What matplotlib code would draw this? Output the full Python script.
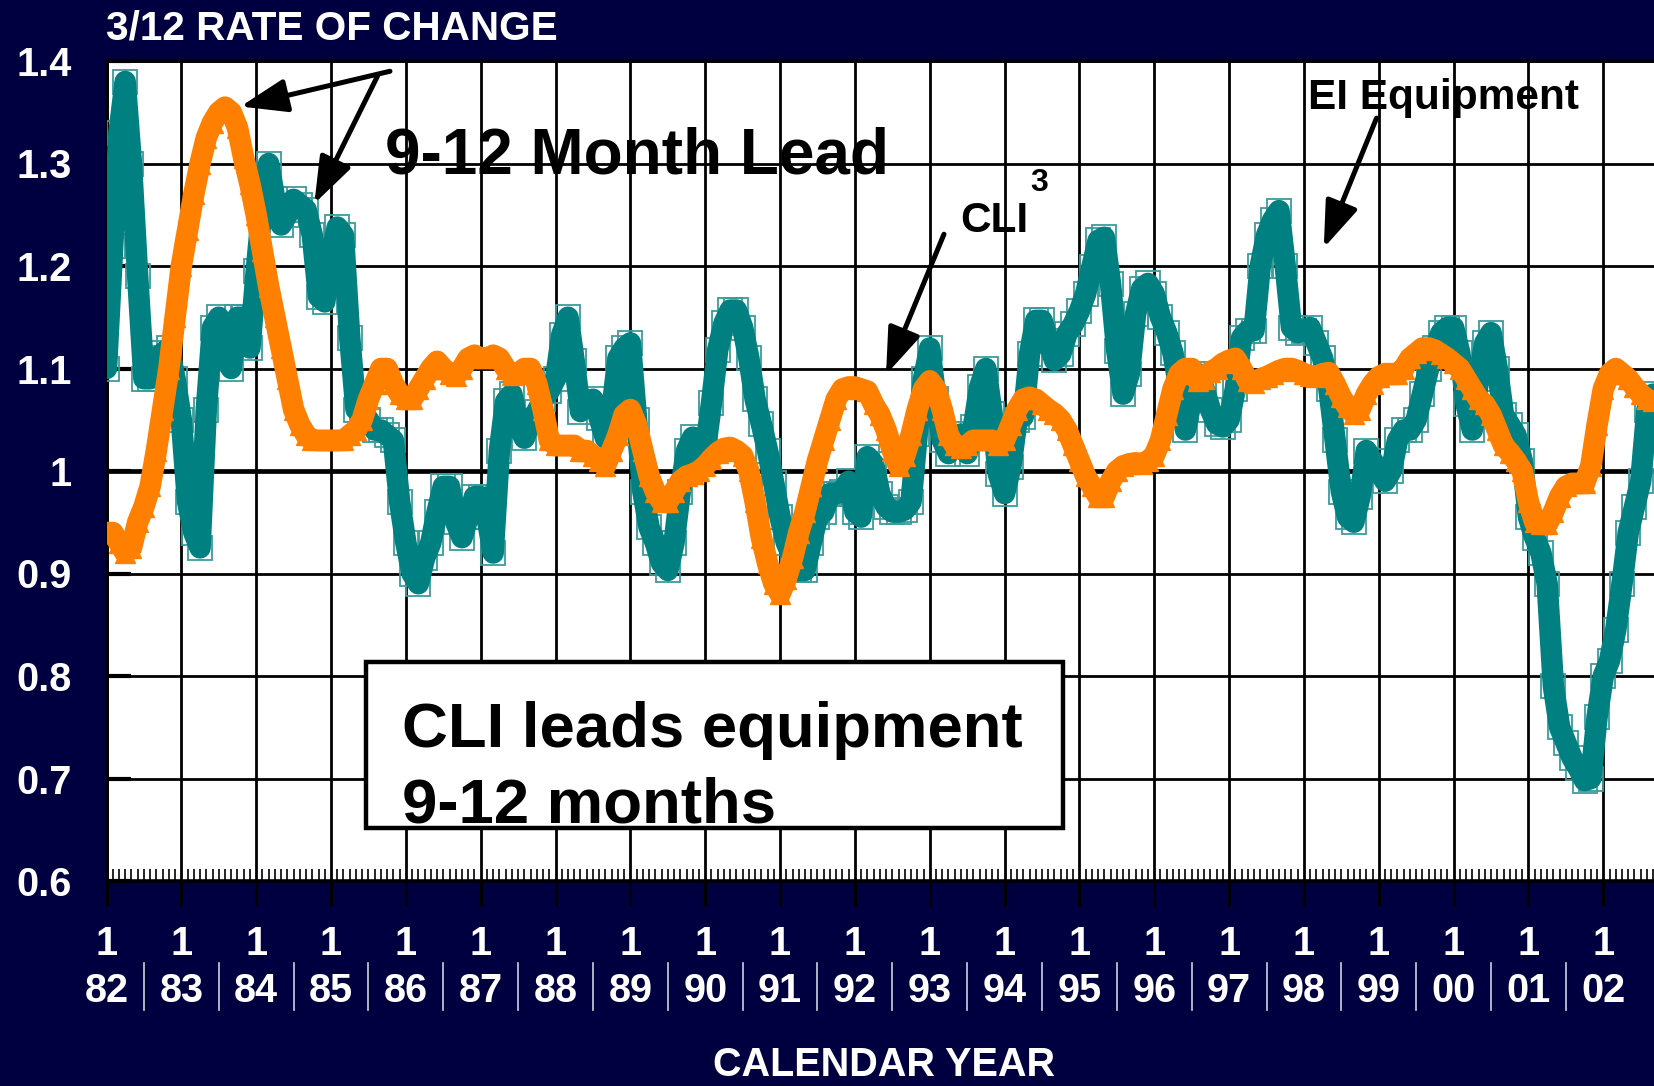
import numpy as np
import matplotlib
matplotlib.use("Agg")
import matplotlib.pyplot as plt
from matplotlib.patches import Rectangle

plt.rcParams['font.family'] = ['Liberation Sans', 'DejaVu Sans']
plt.rcParams['font.weight'] = 'bold'

# ---------------- data (monthly, starting Jan 1982) ----------------
start_year = 1982
equipment = [
    1.10, 1.22, 1.33, 1.38, 1.30, 1.19, 1.09, 1.09, 1.11, 1.115, 1.12, 1.09,      # 1982
    1.05, 0.97, 0.94, 0.925, 1.06, 1.14, 1.15, 1.11, 1.10, 1.15, 1.15, 1.12,      # 1983
    1.195, 1.26, 1.30, 1.265, 1.24, 1.25, 1.265, 1.26, 1.255, 1.23, 1.17, 1.165,  # 1984
    1.21, 1.238, 1.23, 1.13, 1.06, 1.055, 1.05, 1.04, 1.04, 1.035, 1.03, 0.97,    # 1985
    0.93, 0.90, 0.89, 0.915, 0.93, 0.96, 0.985, 0.985, 0.95, 0.935, 0.955, 0.975, # 1986
    0.975, 0.955, 0.92, 1.02, 1.068, 1.075, 1.045, 1.032, 1.049, 1.058, 1.07, 1.078,  # 1987
    1.09, 1.133, 1.15, 1.107, 1.058, 1.065, 1.07, 1.052, 1.032, 1.058, 1.11, 1.12,    # 1988
    1.125, 1.05, 0.98, 0.945, 0.93, 0.91, 0.903, 0.93, 0.98, 1.02, 1.033, 1.014,      # 1989
    1.02, 1.066, 1.118, 1.144, 1.157, 1.157, 1.14, 1.11, 1.07, 1.046, 1.02, 0.988,    # 1990
    0.955, 0.93, 0.916, 0.903, 0.903, 0.93, 0.955, 0.96, 0.978, 0.978, 0.98, 0.99,    # 1991
    0.96, 0.955, 1.014, 1.007, 0.978, 0.965, 0.96, 0.96, 0.962, 0.97, 1.036, 1.09,    # 1992
    1.12, 1.07, 1.03, 1.017, 1.03, 1.036, 1.017, 1.043, 1.082, 1.10, 1.056, 0.997,    # 1993
    0.978, 1.004, 1.05, 1.053, 1.114, 1.147, 1.147, 1.127, 1.108, 1.114, 1.134, 1.143,  # 1994
    1.156, 1.173, 1.199, 1.225, 1.228, 1.182, 1.117, 1.075, 1.095, 1.153, 1.178, 1.183,  # 1995
    1.173, 1.15, 1.135, 1.115, 1.08, 1.04, 1.07, 1.095, 1.08, 1.06, 1.046, 1.043,     # 1996
    1.05, 1.08, 1.13, 1.137, 1.137, 1.20, 1.23, 1.245, 1.254, 1.20, 1.14, 1.135,      # 1997
    1.137, 1.14, 1.125, 1.11, 1.08, 1.03, 0.98, 0.955, 0.95, 0.975, 1.02, 1.01,       # 1998
    1.00, 0.99, 1.00, 1.03, 1.04, 1.04, 1.05, 1.075, 1.10, 1.12, 1.135, 1.14,         # 1999
    1.14, 1.115, 1.065, 1.04, 1.09, 1.125, 1.135, 1.10, 1.055, 1.045, 1.035, 1.01,    # 2000
    0.955, 0.935, 0.92, 0.89, 0.79, 0.75, 0.735, 0.72, 0.71, 0.698, 0.70, 0.76,       # 2001
    0.80, 0.815, 0.845, 0.89, 0.94, 0.965, 0.99, 1.06, 1.075,                        # 2002
]
cli = [
    0.94, 0.94, 0.93, 0.92, 0.925, 0.95, 0.965, 0.985, 1.02, 1.06, 1.10, 1.15,       # 1982
    1.20, 1.235, 1.27, 1.30, 1.325, 1.34, 1.35, 1.355, 1.35, 1.335, 1.305, 1.28,     # 1983
    1.25, 1.215, 1.18, 1.15, 1.12, 1.09, 1.06, 1.045, 1.035, 1.03, 1.03, 1.03,       # 1984
    1.03, 1.03, 1.03, 1.035, 1.04, 1.05, 1.07, 1.085, 1.10, 1.10, 1.085, 1.075,      # 1985
    1.07, 1.07, 1.08, 1.09, 1.10, 1.107, 1.10, 1.095, 1.093, 1.10, 1.11, 1.113,      # 1986
    1.11, 1.11, 1.113, 1.11, 1.10, 1.094, 1.095, 1.10, 1.10, 1.085, 1.06, 1.03,      # 1987
    1.025, 1.025, 1.025, 1.025, 1.02, 1.02, 1.015, 1.01, 1.005, 1.02, 1.035, 1.055,  # 1988
    1.06, 1.045, 1.02, 0.995, 0.98, 0.97, 0.97, 0.98, 0.99, 0.995, 0.997, 1.0,       # 1989
    1.005, 1.012, 1.018, 1.022, 1.023, 1.02, 1.015, 1.0, 0.97, 0.935, 0.91, 0.89,    # 1990
    0.88, 0.895, 0.915, 0.94, 0.96, 0.985, 1.01, 1.03, 1.05, 1.07, 1.08, 1.082,      # 1991
    1.082, 1.08, 1.078, 1.065, 1.055, 1.04, 1.02, 1.005, 1.015, 1.035, 1.06, 1.08,   # 1992
    1.088, 1.08, 1.06, 1.035, 1.025, 1.022, 1.025, 1.03, 1.03, 1.03, 1.03, 1.025,    # 1993
    1.03, 1.045, 1.06, 1.07, 1.072, 1.07, 1.065, 1.06, 1.056, 1.05, 1.04, 1.025,     # 1994
    1.01, 0.995, 0.985, 0.975, 0.975, 0.99, 1.0, 1.005, 1.007, 1.008, 1.007, 1.01,   # 1995
    1.015, 1.03, 1.055, 1.08, 1.095, 1.10, 1.10, 1.088, 1.09, 1.097, 1.10, 1.105,    # 1996
    1.108, 1.11, 1.10, 1.088, 1.086, 1.09, 1.092, 1.095, 1.098, 1.10, 1.10, 1.098,   # 1997
    1.095, 1.093, 1.092, 1.095, 1.096, 1.085, 1.072, 1.062, 1.056, 1.06, 1.075, 1.085,  # 1998
    1.092, 1.095, 1.095, 1.095, 1.10, 1.11, 1.115, 1.12, 1.12, 1.118, 1.114, 1.11,   # 1999
    1.105, 1.10, 1.09, 1.08, 1.07, 1.065, 1.055, 1.04, 1.025, 1.018, 1.01, 1.0,      # 2000
    0.97, 0.95, 0.948, 0.948, 0.96, 0.975, 0.985, 0.988, 0.988, 0.988, 1.005, 1.045, # 2001
    1.08, 1.095, 1.10, 1.095, 1.09, 1.082, 1.075, 1.07, 1.068,                      # 2002
]
year_ticks = list(range(1982, 2003))
year_labels = ['82', '83', '84', '85', '86', '87', '88', '89', '90', '91', '92',
               '93', '94', '95', '96', '97', '98', '99', '00', '01', '02']
month_labels = ['1'] * len(year_ticks)
y_ticks = [0.6, 0.7, 0.8, 0.9, 1.0, 1.1, 1.2, 1.3, 1.4]
y_labels = ['0.6', '0.7', '0.8', '0.9', '1', '1.1', '1.2', '1.3', '1.4']

# ---------------- styling ----------------
NAVY = '#000040'
TEAL = '#008080'
TEAL_EDGE = '#3c9c9c'
ORANGE = '#FF8000'
FS = 28.5

W, H = 1654, 1086
fig = plt.figure(figsize=(W / 100, H / 100), dpi=100, facecolor=NAVY)
ax_left, ax_top, ax_bottom = 106.5, 61, 881
ax = fig.add_axes([ax_left / W, (H - ax_bottom) / H, 1 - ax_left / W, (ax_bottom - ax_top) / H])
ax.set_facecolor('white')

t_eq = start_year + np.arange(len(equipment)) / 12.0
t_cli = start_year + np.arange(len(cli)) / 12.0

# EI Equipment: teal line with open squares
ax.plot(t_eq, equipment, ls='none', marker='s', ms=17, mfc='none',
        mec=TEAL_EDGE, mew=1.3, zorder=3)
ax.plot(t_eq, equipment, color=TEAL, lw=15.5, solid_joinstyle='round',
        solid_capstyle='round', zorder=3.5)
# CLI: orange line with triangles
ax.plot(t_cli, cli, color=ORANGE, lw=15.5, marker='^', ms=15, mfc=ORANGE,
        mec=ORANGE, solid_joinstyle='round', solid_capstyle='round', zorder=4)

x_end = start_year + (W - ax_left) / 74.84
ax.set_xlim(start_year, x_end)
ax.set_ylim(0.6, 1.4)

ax.set_xticks(year_ticks)
ax.set_xticklabels([])
ax.set_xticks(np.arange(start_year, x_end, 1 / 12.0), minor=True)
ax.set_yticks(y_ticks)
ax.set_yticklabels(y_labels)

ax.tick_params(axis='x', which='major', direction='out', length=18, width=2.2,
               color='black', labelbottom=False)
ax.tick_params(axis='x', which='minor', direction='in', length=8.6, width=1.2,
               color='black')
ax.tick_params(axis='y', which='major', direction='in', length=17, width=3,
               color='black', labelsize=FS, labelcolor='white', pad=25)
for lab in ax.get_yticklabels():
    lab.set_fontweight('bold')

ax.set_axisbelow(True)
ax.grid(True, which='major', color='black', lw=2.0)
ax.axhline(1.0, color='black', lw=3.4, zorder=2)

for side in ['left', 'top', 'bottom']:
    ax.spines[side].set_color('black')
    ax.spines[side].set_linewidth(2.6)
ax.spines['right'].set_visible(False)

# x labels: "1" over two-digit year, with separators
xtr = ax.get_xaxis_transform()
for yr, m_lab, y_lab in zip(year_ticks, month_labels, year_labels):
    ax.text(yr, -0.0902, m_lab, transform=xtr, ha='center', va='baseline',
            color='white', fontsize=FS, fontweight='bold', clip_on=False)
    ax.text(yr, -0.1476, y_lab, transform=xtr, ha='center', va='baseline',
            color='white', fontsize=FS, fontweight='bold', clip_on=False)
for yr in year_ticks[:-1]:
    ax.plot([yr + 0.5, yr + 0.5], [-0.1004, -0.1573], transform=xtr,
            color='#d0d0dc', lw=1.2, clip_on=False)

fig.text(ax_left / W, (H - 39) / H, '3/12 RATE OF CHANGE', color='white',
         fontsize=29.2, fontweight='bold', ha='left', va='baseline')
fig.text(884 / W, (H - 1076.5) / H, 'CALENDAR YEAR', color='white',
         fontsize=FS, fontweight='bold', ha='center', va='baseline')

# annotations
ax.text(1985.721, 1.2898, '9-12 Month Lead', fontsize=46, fontweight='bold',
        color='black', ha='left', va='baseline', zorder=6)
arrow_kw = dict(arrowstyle='-|>,head_length=0.75,head_width=0.27', color='black',
                lw=3.6, mutation_scale=38, shrinkA=0, shrinkB=0)
ax.annotate('', xy=(1983.790, 1.3556), xytext=(1985.788, 1.390),
            arrowprops=arrow_kw, zorder=6)
ax.annotate('', xy=(1984.777, 1.2609), xytext=(1985.622, 1.3854),
            arrowprops=arrow_kw, zorder=6)

ax.text(1998.054, 1.3536, 'EI Equipment', fontsize=30.5, fontweight='bold',
        color='black', ha='left', va='baseline', zorder=6)
ax.annotate('', xy=(1998.265, 1.2177), xytext=(1998.97, 1.3443),
            arrowprops=arrow_kw, zorder=6)

ax.text(1993.404, 1.2332, 'CLI', fontsize=30.5, fontweight='bold',
        color='black', ha='left', va='baseline', zorder=6)
ax.text(1994.348, 1.2732, '3', fontsize=23, fontweight='bold',
        color='black', ha='left', va='baseline', zorder=6)
ax.annotate('', xy=(1992.416, 1.0941), xytext=(1993.19, 1.231),
            arrowprops=arrow_kw, zorder=6)

box = Rectangle((1985.467, 0.6517), 1994.781 - 1985.467, 0.8133 - 0.6517,
                facecolor='white', edgecolor='black', lw=3.2, zorder=7)
ax.add_patch(box)
ax.text(1985.948, 0.7309, 'CLI leads equipment', fontsize=45.7, fontweight='bold',
        color='black', ha='left', va='baseline', zorder=8)
ax.text(1985.948, 0.6569, '9-12 months', fontsize=45.7, fontweight='bold',
        color='black', ha='left', va='baseline', zorder=8)

fig.savefig('out.png', dpi=100, facecolor=NAVY)
